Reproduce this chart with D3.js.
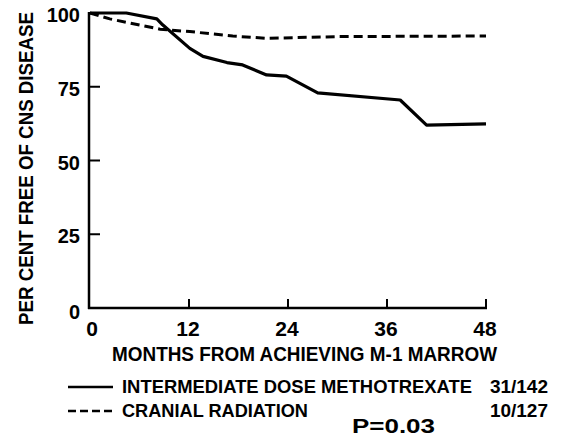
<!DOCTYPE html>
<html>
<head>
<meta charset="utf-8">
<script src="https://cdn.jsdelivr.net/npm/d3@7"></script>
<style>
  body { margin: 0; background: #fff; }
  svg text { font-family: "Liberation Sans", Arial, sans-serif; font-weight: bold; fill: #000; }
</style>
</head>
<body>
<div id="chart"></div>
<script>
// (months, per cent free)
const methotrexate = [
    [0, 100], [4.4, 100], [8.1, 98], [8.8, 96], [12.1, 88], [13.7, 85.3],
    [16.6, 83.2], [18.5, 82.4], [21.4, 79], [23.8, 78.6], [27.6, 72.9],
    [37.6, 70.5], [40.8, 62], [48, 62.4]
];
const radiation = [
    [0, 100], [2.4, 98], [8.5, 94.5], [12.1, 93.7], [17.3, 92.2],
    [21.4, 91.4], [30, 92], [48, 92.2]
];
const xTicks = [0, 12, 24, 36, 48];
const yTicks = [0, 25, 50, 75, 100];

const width = 565, height = 437;
const svg = d3.select('#chart').append('svg')
    .attr('width', width)
    .attr('height', height);

// Scales
const x = d3.scaleLinear().domain([0, 48]).range([90, 486]);
const y = d3.scaleLinear().domain([0, 100]).range([308, 13]);

// Axes frame
svg.append('line')
    .attr('x1', 89).attr('x2', 89)
    .attr('y1', y(100) - 1).attr('y2', y(0) + 1)
    .attr('stroke', '#000').attr('stroke-width', 2.5);
svg.append('line')
    .attr('x1', 88).attr('x2', x(48) + 1)
    .attr('y1', y(0)).attr('y2', y(0))
    .attr('stroke', '#000').attr('stroke-width', 2.5);

// Y ticks point inward
yTicks.filter(d => d > 0 && d < 100).forEach(d => {
    svg.append('line')
        .attr('x1', 89).attr('x2', 100)
        .attr('y1', y(d)).attr('y2', y(d))
        .attr('stroke', '#000').attr('stroke-width', 2);
});
yTicks.forEach(d => {
    svg.append('text')
        .attr('x', 80)
        .attr('y', y(d) + (d === 0 ? 11 : 9))
        .attr('text-anchor', 'end')
        .attr('font-size', 20)
        .text(d);
});

// X ticks point up
xTicks.filter(d => d > 0).forEach(d => {
    svg.append('line')
        .attr('x1', x(d)).attr('x2', x(d))
        .attr('y1', y(0)).attr('y2', y(0) - 9)
        .attr('stroke', '#000').attr('stroke-width', 2);
});
xTicks.forEach(d => {
    svg.append('text')
        .attr('x', d === 0 ? x(d) + 2 : x(d) - 1)
        .attr('y', 336)
        .attr('text-anchor', 'middle')
        .attr('font-size', 21)
        .text(d);
});

// Axis titles
svg.append('text')
    .attr('x', 112).attr('y', 361)
    .attr('font-size', 19.5)
    .attr('textLength', 385)
    .attr('lengthAdjust', 'spacingAndGlyphs')
    .text('MONTHS FROM ACHIEVING M-1 MARROW');

svg.append('text')
    .attr('transform', 'translate(33,325) rotate(-90)')
    .attr('font-size', 21)
    .attr('textLength', 313)
    .attr('lengthAdjust', 'spacingAndGlyphs')
    .text('PER CENT FREE OF CNS DISEASE');

// Curves
const line = d3.line().x(d => x(d[0])).y(d => y(d[1]));
svg.append('path')
    .datum(radiation)
    .attr('d', line)
    .attr('fill', 'none')
    .attr('stroke', '#000')
    .attr('stroke-width', 3)
    .attr('stroke-dasharray', '9,5');
svg.append('path')
    .datum(methotrexate)
    .attr('d', line)
    .attr('fill', 'none')
    .attr('stroke', '#000')
    .attr('stroke-width', 3.2)
    .attr('stroke-linejoin', 'round');

// Legend
const legend = [
    { label: 'INTERMEDIATE DOSE METHOTREXATE', labelLen: 350, count: '31/142', dash: null, y: 393 },
    { label: 'CRANIAL RADIATION', labelLen: 186, count: '10/127', dash: '8,4', y: 417 }
];
legend.forEach(item => {
    svg.append('line')
        .attr('x1', 68).attr('x2', 113)
        .attr('y1', item.y - 6).attr('y2', item.y - 6)
        .attr('stroke', '#000').attr('stroke-width', 2.5)
        .attr('stroke-dasharray', item.dash);
    svg.append('text')
        .attr('x', 122).attr('y', item.y)
        .attr('font-size', 19)
        .attr('textLength', item.labelLen)
        .attr('lengthAdjust', 'spacingAndGlyphs')
        .text(item.label);
    svg.append('text')
        .attr('x', 548).attr('y', item.y)
        .attr('font-size', 19)
        .attr('text-anchor', 'end')
        .text(item.count);
});

svg.append('text')
    .attr('x', 352).attr('y', 433)
    .attr('font-size', 20)
    .attr('textLength', 83)
    .attr('lengthAdjust', 'spacingAndGlyphs')
    .text('P=0.03');
</script>
</body>
</html>
